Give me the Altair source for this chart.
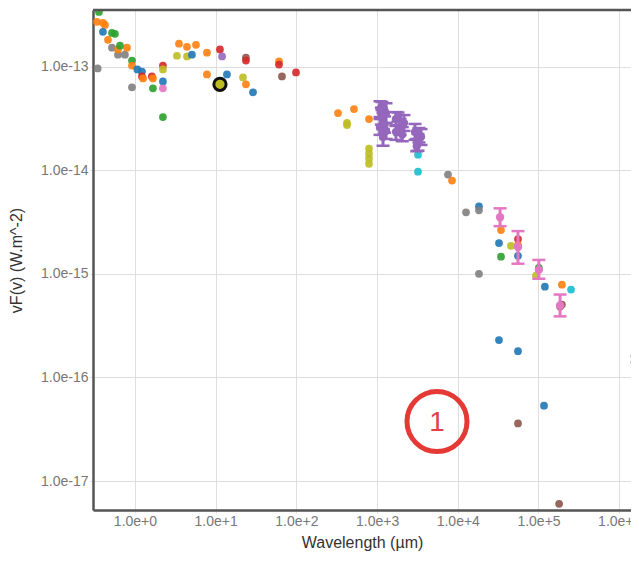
import altair as alt
import pandas as pd

# ---------------- data ----------------
pt_wl = [0.358, 0.338, 0.401, 0.425, 0.401, 0.519, 0.565, 0.463, 0.519, 0.616,
         0.751, 0.616, 0.796, 0.652, 0.918, 0.918, 1.07, 1.22, 1.22, 1.26,
         1.62, 1.67, 1.67, 0.918, 2.22, 2.22, 2.22, 2.22, 2.22, 0.345,
         3.31, 3.51, 4.41, 5.70, 4.41, 5.08, 7.80, 7.80, 11.3, 12.0,
         13.8, 23.7, 23.7, 21.8, 23.7, 29.0, 60.9, 60.9, 66.3, 98.9,
         328, 517, 424, 424, 794, 794, 794, 794, 794, 3214,
         3214, 7560, 8480, 12640, 18300, 18300, 34300, 32400, 34300, 45600,
         55700, 55700, 55700, 101000, 93100, 120000, 195000, 253000, 195000, 185000,
         18300, 32400, 55700, 117000, 55700, 180000]
pt_flux = [3.36e-13, 2.70e-13, 2.64e-13, 2.52e-13, 2.16e-13, 2.11e-13, 2.07e-13, 1.81e-13, 1.52e-13, 1.30e-13,
           1.30e-13, 1.46e-13, 1.52e-13, 1.59e-13, 1.14e-13, 1.02e-13, 9.36e-14, 8.95e-14, 8.02e-14, 7.68e-14,
           8.02e-14, 7.68e-14, 6.16e-14, 6.30e-14, 1.02e-13, 9.36e-14, 7.18e-14, 6.16e-14, 3.25e-14, 9.57e-14,
           1.27e-13, 1.66e-13, 1.55e-13, 1.62e-13, 1.25e-13, 1.30e-13, 1.36e-13, 8.38e-14, 1.46e-13, 1.25e-13,
           8.38e-14, 1.22e-13, 1.14e-13, 7.85e-14, 6.73e-14, 5.64e-14, 1.12e-13, 1.045e-13, 8.02e-14, 8.76e-14,
           3.55e-14, 3.88e-14, 2.72e-14, 2.85e-14, 3.11e-14, 1.61e-14, 1.44e-14, 1.29e-14, 1.15e-14, 1.41e-14,
           9.67e-15, 9.06e-15, 7.94e-15, 3.92e-15, 4.48e-15, 4.10e-15, 2.64e-15, 1.98e-15, 1.46e-15, 1.86e-15,
           2.16e-15, 1.90e-15, 1.49e-15, 1.14e-15, 9.57e-16, 7.51e-16, 7.85e-16, 7.03e-16, 5.05e-16, 4.83e-16,
           1.00e-15, 2.29e-16, 1.79e-16, 5.33e-17, 3.59e-17, 6.03e-18]
pt_series = ["green", "orange", "orange", "orange", "blue", "green", "green", "orange", "gray", "gray",
             "gray", "orange", "orange", "green", "green", "orange", "blue", "blue", "red", "orange",
             "red", "orange", "green", "gray", "red", "olive", "blue", "pink", "green", "gray",
             "olive", "orange", "orange", "orange", "olive", "blue", "orange", "orange", "red", "purple",
             "blue", "brown", "red", "olive", "orange", "blue", "orange", "red", "brown", "red",
             "orange", "orange", "olive", "olive", "orange", "olive", "olive", "olive", "olive", "cyan",
             "cyan", "gray", "orange", "gray", "blue", "gray", "orange", "blue", "green", "olive",
             "red", "orange", "blue", "green", "olive", "blue", "orange", "cyan", "brown", "brown",
             "gray", "blue", "blue", "blue", "brown", "brown"]

# points with error bars
eb_wl = [1087, 1290, 1184, 1087, 1290, 1184, 1130, 1240, 1150,
         1714, 2154, 1923, 1714, 2050, 1820,
         2950, 3500, 3214, 3300, 3100,
         33400, 55700, 101000, 185000, 1.66e6]
eb_flux = [3.88e-14, 3.55e-14, 2.98e-14, 2.61e-14, 2.39e-14, 2.09e-14, 3.30e-14, 2.75e-14, 4.20e-14,
           3.11e-14, 2.85e-14, 2.61e-14, 2.34e-14, 2.20e-14, 3.30e-14,
           2.34e-14, 2.09e-14, 1.87e-14, 2.20e-14, 1.70e-14,
           3.51e-15, 1.81e-15, 1.09e-15, 4.94e-16, 1.50e-16]
eb_hi = [4.62e-14, 4.42e-14, 3.55e-14, 3.11e-14, 2.85e-14, 2.49e-14, 4.00e-14, 3.30e-14, 4.55e-14,
         3.63e-14, 3.40e-14, 3.11e-14, 2.72e-14, 2.60e-14, 3.60e-14,
         2.79e-14, 2.49e-14, 2.23e-14, 2.55e-14, 2.00e-14,
         4.28e-15, 2.58e-15, 1.36e-15, 6.30e-16, 1.60e-16]
eb_lo = [3.25e-14, 2.85e-14, 2.49e-14, 2.19e-14, 2.00e-14, 1.72e-14, 2.75e-14, 2.30e-14, 3.80e-14,
         2.67e-14, 2.39e-14, 2.19e-14, 1.96e-14, 1.90e-14, 2.95e-14,
         1.96e-14, 1.75e-14, 1.54e-14, 1.85e-14, 1.52e-14,
         2.88e-15, 1.25e-15, 8.95e-16, 3.88e-16, 1.40e-16]
eb_series = ["purple"] * 20 + ["pink"] * 5

# highlighted (selected) point
hl_wl = [11.3]
hl_flux = [6.73e-14]

# annotation marker
note_wl = [5525]
note_flux = [3.75e-17]
note_text = ["1"]

series_names = ["blue", "orange", "green", "red", "purple", "brown", "pink", "gray", "olive", "cyan"]
series_colors = ["#1f77b4", "#ff7f0e", "#2ca02c", "#d62728", "#9467bd",
                 "#8c564b", "#e377c2", "#7f7f7f", "#bcbd22", "#17becf"]

# ---------------- tables ----------------
pts = pd.DataFrame({"wl": pt_wl, "flux": pt_flux, "series": pt_series})
ebs = pd.DataFrame({"wl": eb_wl, "flux": eb_flux, "lo": eb_lo, "hi": eb_hi, "series": eb_series})
caps = pd.concat([
    pd.DataFrame({"wl": eb_wl, "flux": eb_lo, "series": eb_series}),
    pd.DataFrame({"wl": eb_wl, "flux": eb_hi, "series": eb_series}),
], ignore_index=True)
hl = pd.DataFrame({"wl": hl_wl, "flux": hl_flux})
note = pd.DataFrame({"wl": note_wl, "flux": note_flux, "t": note_text})

# ---------------- scales / axes ----------------
xscale = alt.Scale(type="log", domain=[0.302, 1.4e6], nice=False)
yscale = alt.Scale(type="log", domain=[5.25e-18, 3.51e-13], nice=False)
cscale = alt.Scale(domain=series_names, range=series_colors)

FONT = "Liberation Sans"
xaxis = alt.Axis(
    values=[1, 10, 100, 1000, 1e4, 1e5, 1e6],
    labelExpr="format(datum.value, '.1e')",
    title="Wavelength (µm)",
    titleFont=FONT, titleFontSize=16, titleFontWeight="normal", titleColor="#333",
    titleBaseline="middle", titleY=32,
    labelFont=FONT, labelFontSize=14, labelColor="#777", labelPadding=1,
    tickSize=3, tickColor="#ddd",
    grid=True, gridColor="#dedede", gridWidth=1,
    domainColor="#555", domainWidth=2.5,
)
yaxis = alt.Axis(
    values=[1e-17, 1e-16, 1e-15, 1e-14, 1e-13],
    labelExpr="format(datum.value, '.1e')",
    title="vF(v) (W.m^-2)",
    titleFont=FONT, titleFontSize=16, titleFontWeight="normal", titleColor="#333",
    titleAngle=270, titleBaseline="middle", titleAlign="center", titleX=-77,
    labelFont=FONT, labelFontSize=14, labelColor="#777", labelPadding=2,
    tickSize=3, tickColor="#ddd",
    grid=True, gridColor="#dedede", gridWidth=1,
    domainColor="#555", domainWidth=2.5,
)


def X():
    return alt.X("wl:Q", scale=xscale, axis=xaxis)


def Y(field="flux:Q"):
    return alt.Y(field, scale=yscale, axis=yaxis)


C = alt.Color("series:N", scale=cscale, legend=None)

base = alt.Chart(pts).mark_circle(size=60, opacity=0.9, clip=True).encode(
    x=X(), y=Y(), color=C)

rules = alt.Chart(ebs).mark_rule(strokeWidth=3, clip=True).encode(
    x=X(), y=Y("lo:Q"), y2="hi:Q", color=C)

capmarks = alt.Chart(caps).mark_tick(orient="horizontal", size=13, thickness=2.5, opacity=1, clip=True).encode(
    x=X(), y=Y(), color=C)

ebpts = alt.Chart(ebs).mark_circle(size=70, opacity=1, clip=True).encode(
    x=X(), y=Y(), color=C)

hlpt = alt.Chart(hl).mark_point(filled=True, size=150, fill="#bcbd22", stroke="#111",
                                strokeWidth=3, opacity=1, clip=True).encode(x=X(), y=Y())

ring = alt.Chart(note).mark_point(shape="circle", filled=False, size=3600, stroke="#e53935",
                                  strokeWidth=5, opacity=1).encode(x=X(), y=Y())
label = alt.Chart(note).mark_text(font=FONT, fontSize=28, color="#e0404a",
                                  baseline="middle", align="center", dy=1).encode(x=X(), y=Y(), text="t:N")

topline = alt.Chart(note).mark_rule(color="#555", strokeWidth=2.5).encode(
    x=alt.value(0), x2=alt.value(538), y=alt.value(0))

chart = alt.layer(base, rules, capmarks, ebpts, hlpt, ring, label, topline).properties(
    width=538, height=500,
    autosize=alt.AutoSizeParams(type="none"),
    padding={"left": 85, "top": 2, "right": 0, "bottom": 43},
).configure_view(stroke=None).configure(background="white")

chart.save("out.html", embed_options={"renderer": "svg", "actions": False})
